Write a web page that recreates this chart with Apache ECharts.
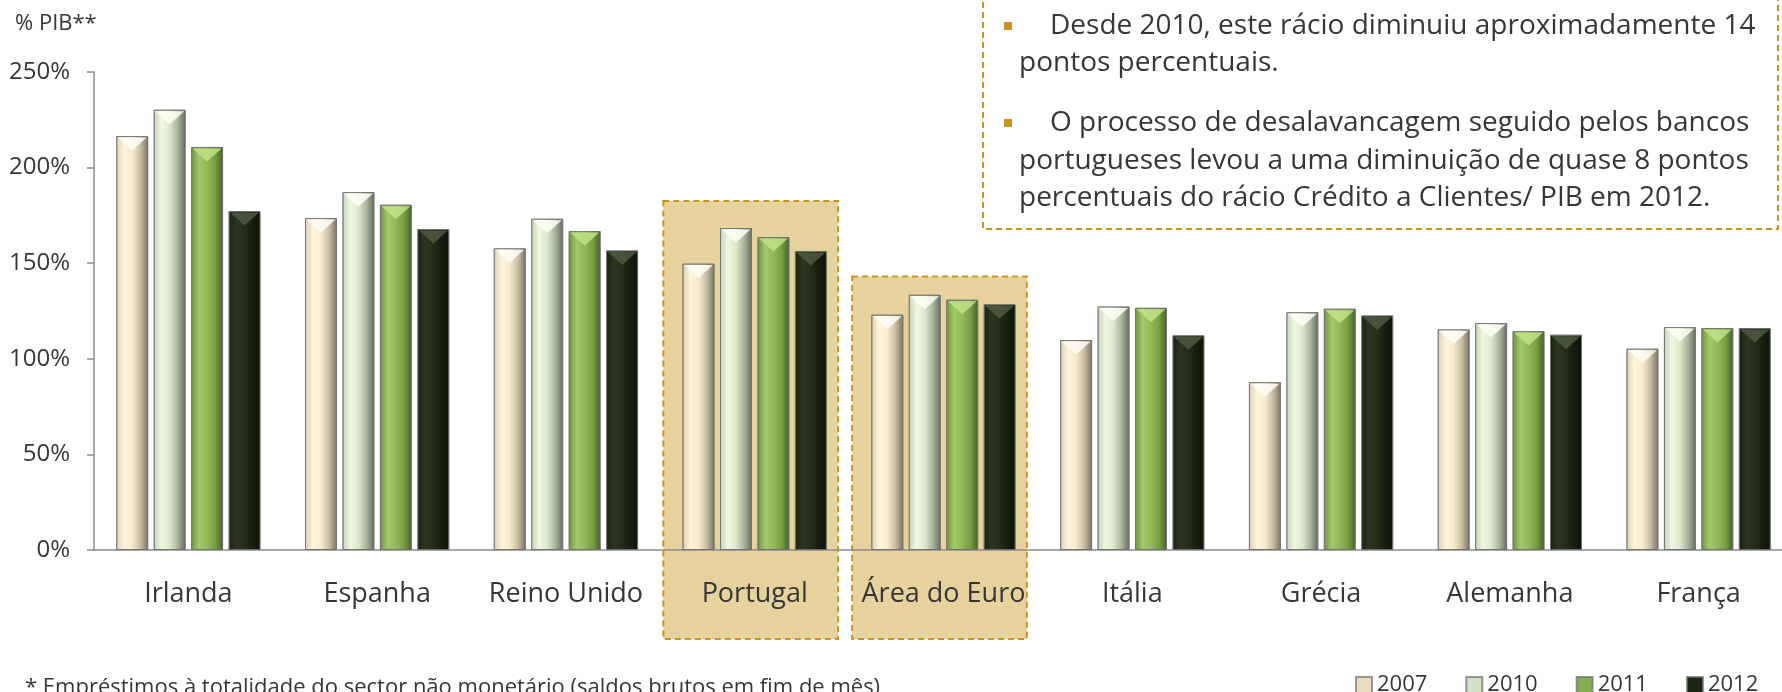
<!DOCTYPE html>
<html>
<head>
<meta charset="utf-8">
<script src="https://cdn.jsdelivr.net/npm/echarts@6/dist/echarts.min.js"></script>
<style>
  html, body { margin: 0; padding: 0; background: #fff; }
  #chart { width: 1782px; height: 692px; }
</style>
</head>
<body>
<div id="chart"></div>
<script>
// categorias e valores (% do PIB)
const categories = ['Irlanda', 'Espanha', 'Reino Unido', 'Portugal', 'Área do Euro', 'Itália', 'Grécia', 'Alemanha', 'França'];
const years = ['2007', '2010', '2011', '2012'];
const v2007 = [216.5, 173.6, 157.8, 149.8, 123.1, 109.8, 87.8, 115.4, 105.3];
const v2010 = [230.3, 187.2, 173.3, 168.4, 133.5, 127.4, 124.4, 118.7, 116.6];
const v2011 = [210.8, 180.6, 166.8, 163.7, 130.9, 126.7, 126.2, 114.5, 116.1];
const v2012 = [177.3, 167.9, 156.7, 156.4, 128.5, 112.3, 122.7, 112.6, 116.1];
const yTicks = [0, 50, 100, 150, 200, 250];

// caixas de destaque (categoria, topo em % do eixo)
const highlights = [
  { name: 'Portugal', top: 182.5 },
  { name: 'Área do Euro', top: 143 }
];

const notes = [
  ['Desde 2010, este rácio diminuiu aproximadamente 14', 'pontos percentuais.'],
  ['O processo de desalavancagem seguido pelos bancos', 'portugueses levou a uma diminuição de quase 8 pontos', 'percentuais do rácio Crédito a Clientes/ PIB em 2012.']
];
const footnote = '* Empréstimos à totalidade do sector não monetário (saldos brutos em fim de mês)';

const FONT = '"Open Sans", "Noto Sans", sans-serif';
const TXT = '#363636';
const GOLD = '#c9961c';
const BAR_W = 32;
const BAR_GAP = 0.17;

function grad(stops) {
  return new echarts.graphic.LinearGradient(0, 0, 1, 0,
    stops.map((c, i) => ({ offset: i / (stops.length - 1), color: c })));
}

const barColors = [
  grad(['#d9cfb4', '#fff5da', '#f6ead0', '#c9bea4', '#7a7262']),
  grad(['#c6d2bb', '#f0f9e2', '#dce8cc', '#a9b59c', '#636b5c']),
  grad(['#6e9340', '#a2c96a', '#90b858', '#77a043', '#45612a']),
  grad(['#1a2210', '#2b3520', '#232d17', '#161d0d', '#0e1308'])
];
const bevelColors = ['#fffdf6', '#fbfff4', '#bfe28a', '#4d5942'];
const legendColors = ['#e8dcbc', '#d4e0c5', '#86ad50', '#1d2612'];

const seriesData = [v2007, v2010, v2011, v2012];

const barSeries = years.map((y, i) => ({
  name: y,
  type: 'bar',
  barWidth: BAR_W,
  barGap: (BAR_GAP * 100) + '%',
  data: seriesData[i],
  itemStyle: { color: barColors[i], borderColor: 'rgba(110,110,110,0.7)', borderWidth: 1 }
}));

// chanfro no topo de cada barra
const bevelSeries = years.map((y, i) => ({
  name: 'bevel' + y,
  type: 'custom',
  silent: true,
  z: 3,
  data: seriesData[i].map((v, k) => [k, v]),
  renderItem: (params, api) => {
    const p = api.coord([api.value(0), api.value(1)]);
    const off = (i - 1.5) * BAR_W * (1 + BAR_GAP);
    const x0 = p[0] + off - BAR_W / 2 + 1.5;
    const x1 = p[0] + off + BAR_W / 2 - 1.5;
    const top = p[1] + 1.5;
    return {
      type: 'polygon',
      shape: { points: [[x0, top], [x1, top], [(x0 + x1) / 2, top + 13]] },
      style: { fill: bevelColors[i], opacity: 0.85 }
    };
  }
}));

const option = {
  animation: false,
  textStyle: { fontFamily: FONT },
  grid: { left: 94, right: -11, top: 72, bottom: 142, outerBoundsMode: 'none' },
  legend: {
    left: 1355, top: 674, padding: 0,
    icon: 'rect', itemWidth: 16, itemHeight: 16, itemGap: 38,
    textStyle: { fontSize: 22, color: TXT, fontFamily: FONT },
    data: years.map((y, i) => ({ name: y, itemStyle: { color: legendColors[i] } }))
  },
  xAxis: {
    type: 'category',
    data: categories,
    axisLine: { lineStyle: { color: '#8c8c8c', width: 1.5 } },
    axisTick: { length: 9, lineStyle: { color: '#8c8c8c', width: 1.5 } },
    axisLabel: { fontSize: 27, color: TXT, margin: 31, interval: 0, fontFamily: FONT }
  },
  yAxis: {
    type: 'value',
    min: 0, max: 250, interval: 50,
    axisLine: { show: true, lineStyle: { color: '#8c8c8c', width: 1.5 } },
    axisTick: { show: true, length: 7, lineStyle: { color: '#8c8c8c', width: 1.5 } },
    splitLine: { show: false },
    axisLabel: {
      fontSize: 24, color: TXT, margin: 24, fontFamily: FONT,
      formatter: v => (yTicks.includes(v) ? v + '%' : '')
    }
  },
  series: barSeries.concat(bevelSeries)
};

const chart = echarts.init(document.getElementById('chart'));
chart.setOption(option);

// elementos gráficos: caixas de destaque, nota e texto explicativo
const c0 = chart.convertToPixel({ xAxisIndex: 0 }, categories[0]);
const c1 = chart.convertToPixel({ xAxisIndex: 0 }, categories[1]);
const band = c1 - c0;
const axisY = chart.convertToPixel({ yAxisIndex: 0 }, 0);

const graphics = [];
highlights.forEach(h => {
  const cx = chart.convertToPixel({ xAxisIndex: 0 }, h.name);
  const top = chart.convertToPixel({ yAxisIndex: 0 }, h.top);
  const left = cx - band / 2 + 3;
  const right = cx + band / 2 - 11;
  graphics.push({
    type: 'rect', z: -10, silent: true,
    shape: { x: left, y: top, width: right - left, height: axisY + 89 - top },
    style: { fill: '#e6d29c', stroke: GOLD, lineWidth: 2, lineDash: [6, 4] }
  });
});

// caixa do texto explicativo
graphics.push({
  type: 'rect', z: 50, silent: true,
  shape: { x: 983, y: -20, width: 795, height: 249 },
  style: { fill: '#ffffff', stroke: GOLD, lineWidth: 2, lineDash: [6, 4] }
});

const lineYs = [[26, 63], [123, 161, 198]];
notes.forEach((para, p) => {
  graphics.push({
    type: 'rect', z: 51, silent: true,
    shape: { x: 1004, y: lineYs[p][0] - 4, width: 8, height: 8 },
    style: { fill: '#c9961c' }
  });
  para.forEach((line, k) => {
    graphics.push({
      type: 'text', z: 51, silent: true,
      x: k === 0 ? 1050 : 1019, y: lineYs[p][k],
      style: { text: line, font: '28px ' + FONT, fill: TXT, verticalAlign: 'middle', align: 'left' }
    });
  });
});

graphics.push({
  type: 'text', silent: true, x: 15, y: 24,
  style: { text: '% PIB**', font: '22px ' + FONT, fill: TXT, verticalAlign: 'middle' }
});
graphics.push({
  type: 'text', silent: true, x: 25, y: 688,
  style: { text: footnote, font: '22px ' + FONT, fill: TXT, verticalAlign: 'middle' }
});

chart.setOption({ graphic: graphics });

window.addEventListener('resize', () => chart.resize());
</script>
</body>
</html>
